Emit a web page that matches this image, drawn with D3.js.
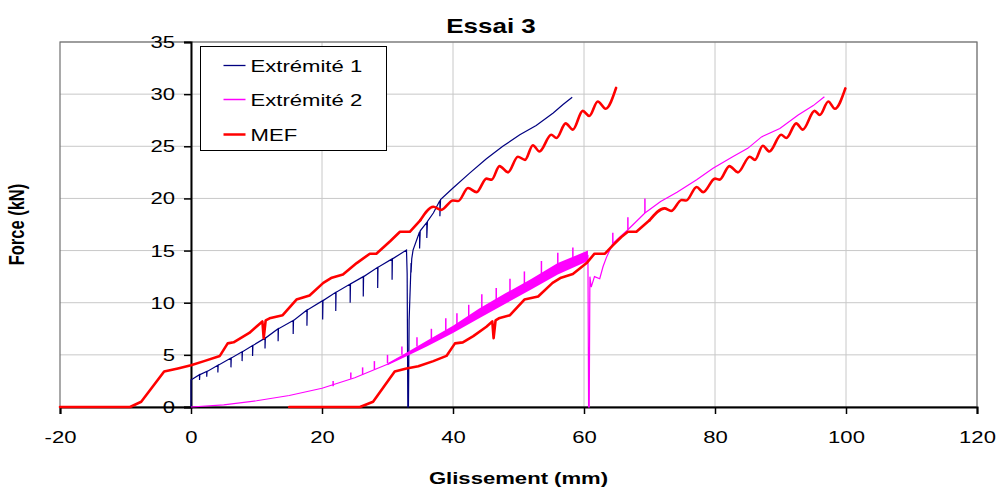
<!DOCTYPE html>
<html>
<head>
<meta charset="utf-8">
<script src="https://cdn.jsdelivr.net/npm/d3@7"></script>
<style>
  body { margin: 0; background: #fff; }
  text { font-family: Arial, "Liberation Sans", sans-serif; fill: #000; }
</style>
</head>
<body>
<div id="chart"></div>
<script>
// values: [glissement mm, force kN]
const xTicks = [-20, 0, 20, 40, 60, 80, 100, 120];
const yTicks = [0, 5, 10, 15, 20, 25, 30, 35];

// Extrémité 1 (with the downward unloading spikes)
const ext1 = [[0,0],[0,2.6],[0.3,2.7],[1.3,3.1],[1.3,2.6],[1.35,3.1],[2.4,3.4],[2.4,2.9],[2.45,3.4],
  [4.1,4.0],[4.1,3.3],[4.15,4.0],[6.1,4.7],[6.1,3.8],[6.15,4.7],[7.8,5.3],[7.8,4.4],[7.85,5.3],
  [9.4,5.9],[9.4,4.9],[9.45,5.9],[11.3,6.6],[11.3,5.6],[11.35,6.6],[13.3,7.5],[13.3,6.3],[13.35,7.5],
  [15.6,8.3],[15.6,7.0],[15.65,8.3],[17.7,9.3],[17.7,7.8],[17.75,9.3],[20.1,10.2],[20.1,8.4],[20.15,10.2],
  [22.1,11.0],[22.1,9.2],[22.15,11.0],[24.3,11.8],[24.3,10.0],[24.35,11.8],[26.3,12.5],[26.3,10.6],[26.35,12.5],
  [28.5,13.4],[28.5,11.4],[28.55,13.4],[30.7,14.2],[30.7,12.2],[30.75,14.2],[32.9,15.05],[33.0,12.8],
  [33.1,0],[33.2,0],[33.3,8.3],[33.6,13.8],[33.6,12.9],[33.7,14.2],[33.9,15.05],[34.9,16.8],[34.9,15.2],
  [35.0,16.9],[36.0,17.7],[36.0,16.2],[36.1,17.8],[37.0,18.6],[38.0,19.8],[38.0,18.3],[38.1,19.9],
  [40,21.0],[42.5,22.4],[45.1,23.8],[47.6,25.0],[50.2,26.1],[52.7,27.0],[55.3,28.2],[56.8,29.0],[58.2,29.7]];

// Extrémité 2 centre line
const ext2 = [[0,0],[5,0.2],[10,0.6],[15,1.1],[20,1.8],[25,2.8],[30,4.1],[33,5.05],[36,6.05],[40,7.45],
  [44,9.0],[48,10.4],[52,11.8],[56,13.25],[60.6,14.5],[60.7,0],[60.8,0],[60.9,12.5],[61.1,11.5],[61.6,12.5],
  [62.4,12.3],[62.9,13.45],[63.4,14.3],[64.4,15.7],[66.7,17.0],[69.3,18.6],[71.7,19.7],[74.2,20.6],
  [77.2,21.8],[79.7,22.9],[82.7,24.0],[85,24.8],[87.1,25.9],[89.9,26.7],[92.7,28.0],[95,28.9],[96.7,29.75]];

// Extrémité 2 noisy band: [x, low, high]
const ext2Band = [[30,4.0,4.2],[33,4.9,5.25],[36,5.8,6.35],[40,7.1,7.8],[44,8.5,9.45],[48,9.9,10.9],
  [52,11.3,12.3],[56,12.7,13.8],[60.6,14.0,15.0]];

// Extrémité 2 upward spikes: [x, from, to]
const ext2Spikes = [[21.7,2.0,2.5],[24.4,2.7,3.3],[26.2,3.1,3.8],[28.0,3.6,4.4],[30.0,4.2,5.0],[32.2,5.0,5.8],
  [34.5,5.8,6.7],[36.7,6.5,7.5],[38.9,7.3,8.5],[40.6,7.9,9.0],[42.4,8.6,9.8],[44.4,9.4,10.8],[46.6,10.2,11.4],
  [48.7,10.9,12.3],[50.9,11.6,13.0],[53.5,12.6,14.0],[56.0,13.5,14.8],[58.3,14.1,15.3],[64.4,15.7,16.7],
  [66.7,17.0,18.2],[69.3,18.6,20.0]];

// MEF, first and second curves
const mef1 = [[-20,0],[-9.3,0],[-7.6,0.5],[-4.1,3.4],[-2,3.7],[0,4.0],[2,4.4],[4.4,4.9],[5.6,6.1],[6.5,6.2],
  [8.9,7.1],[10.9,8.2],[11.1,6.6],[11.4,8.3],[12,8.5],[14,8.8],[16.1,10.3],[18.1,10.7],[20.2,11.9],[21.5,12.4],
  [23.2,12.7],[25.3,13.8],[27.3,14.7],[28.3,14.7],[30.4,15.9],[31.9,16.8],[33.4,16.8],[35,17.9],[37,19.2],
  [38.2,18.9],[40,19.8],[40.8,19.75],[42.3,21.0],[43.6,20.6],[45.1,21.9],[45.9,21.8],[47.1,23.1],[48.4,22.5],
  [49.9,24.0],[51.0,23.7],[52.2,25.1],[53.2,24.5],[55.0,26.1],[55.8,25.8],[57.2,27.2],[58.3,26.6],[59.8,28.4],
  [60.8,27.9],[62.1,29.3],[63.3,28.6],[64.9,30.6]];

const mef2 = [[15,0],[25.8,0],[27.8,0.5],[31.1,3.4],[32.9,3.7],[34.7,3.9],[37,4.4],[39,4.9],[40.3,6.1],[41.5,6.2],
  [43.1,6.8],[45.1,7.7],[46.0,8.2],[46.2,6.6],[46.5,8.3],[47,8.5],[48.7,8.8],[50.9,10.3],[53,10.6],[55.2,11.9],
  [56.5,12.4],[58.3,12.75],[60.4,13.8],[61.6,14.7],[63.2,14.7],[64.4,15.5],[65.7,16.3],[66.7,16.8],[68,16.8],
  [70,17.9],[72.3,19.05],[73.3,18.8],[74.9,19.85],[75.6,19.8],[77.2,21.1],[78.2,20.6],[80,21.9],[80.7,21.8],
  [82.2,23.1],[83.5,22.5],[85.3,24.0],[86.1,23.7],[87.3,25.05],[88.3,24.5],[90.1,26.1],[90.9,25.8],[92.4,27.2],
  [93.4,26.6],[95.2,28.4],[96.0,28.0],[97.3,29.3],[98.3,28.6],[99.9,30.55]];

// where each MEF curve turns into the smooth oscillating part
const mefWaveStart = [35, 70];

const legendItems = [
  { name: "Extrémité 1", color: "#000080", width: 1.3 },
  { name: "Extrémité 2", color: "#ff00ff", width: 1.5 },
  { name: "MEF", color: "#ff0000", width: 2.5 }
];

const W = 1005, H = 495;
const margin = { left: 60, top: 42, right: 28, bottom: 88 };
const width = W - margin.left - margin.right;
const height = H - margin.top - margin.bottom;
const SX = 1.3; // the original text is stretched horizontally

const svg = d3.select("#chart").append("svg")
    .attr("width", W)
    .attr("height", H);

const x = d3.scaleLinear().domain([-20, 120]).range([margin.left, margin.left + width]);
const y = d3.scaleLinear().domain([0, 35]).range([margin.top + height, margin.top]);

// gridlines
svg.append("g").selectAll("line").data(yTicks.slice(1)).join("line")
    .attr("x1", x(-20)).attr("x2", x(120))
    .attr("y1", d => y(d)).attr("y2", d => y(d))
    .attr("stroke", "#c8c8c8").attr("stroke-width", 1);
svg.append("g").selectAll("line").data(xTicks.slice(1)).join("line")
    .attr("x1", d => x(d)).attr("x2", d => x(d))
    .attr("y1", y(0)).attr("y2", y(35))
    .attr("stroke", "#c8c8c8").attr("stroke-width", 1);

// frame
svg.append("rect")
    .attr("x", x(-20)).attr("y", y(35))
    .attr("width", x(120) - x(-20)).attr("height", y(0) - y(35))
    .attr("fill", "none").attr("stroke", "#707070").attr("stroke-width", 1.2);

// y axis at x = 0
const yAxis = d3.axisLeft(y).tickValues(yTicks).tickSize(7).tickFormat(d => String(d));
const gy = svg.append("g").attr("transform", `translate(${x(0)},0)`).call(yAxis);
gy.select(".domain").attr("stroke", "#000").attr("stroke-width", 2);
gy.selectAll(".tick line").attr("stroke", "#000").attr("stroke-width", 1.5);
gy.selectAll(".tick text")
    .attr("x", 0)
    .attr("transform", `translate(-16,0) scale(${SX},1)`)
    .attr("font-size", 17).attr("font-family", "Arial, 'Liberation Sans', sans-serif");

// x axis at y = 0
const xAxis = d3.axisBottom(x).tickValues(xTicks).tickSize(7).tickPadding(17).tickFormat(d => String(d));
const gx = svg.append("g").attr("transform", `translate(0,${y(0)})`).call(xAxis);
gx.select(".domain").attr("stroke", "#000").attr("stroke-width", 2);
gx.selectAll(".tick line").attr("stroke", "#000").attr("stroke-width", 1.5);
gx.selectAll(".tick text")
    .attr("transform", `scale(${SX},1)`)
    .attr("font-size", 17).attr("font-family", "Arial, 'Liberation Sans', sans-serif");

// series
const plot = svg.append("g");
const line = d3.line().x(d => x(d[0])).y(d => y(d[1]));
const smooth = d3.line().x(d => x(d[0])).y(d => y(d[1])).curve(d3.curveMonotoneX);

plot.append("path").datum(ext1)
    .attr("d", line).attr("fill", "none")
    .attr("stroke", "#000080").attr("stroke-width", 1.2);

plot.append("path").datum(ext2Band)
    .attr("d", d3.area().x(d => x(d[0])).y0(d => y(d[1])).y1(d => y(d[2])))
    .attr("fill", "#ff00ff");
plot.append("path").datum(ext2)
    .attr("d", line).attr("fill", "none")
    .attr("stroke", "#ff00ff").attr("stroke-width", 1.2);
plot.append("g").selectAll("line").data(ext2Spikes).join("line")
    .attr("x1", d => x(d[0])).attr("x2", d => x(d[0]))
    .attr("y1", d => y(d[1])).attr("y2", d => y(d[2]))
    .attr("stroke", "#ff00ff").attr("stroke-width", 1.5);

[mef1, mef2].forEach((data, i) => {
    const split = mefWaveStart[i];
    plot.append("path").datum(data.filter(d => d[0] <= split))
        .attr("d", line).attr("fill", "none")
        .attr("stroke", "#ff0000").attr("stroke-width", 2.6)
        .attr("stroke-linejoin", "round").attr("stroke-linecap", "round");
    plot.append("path").datum(data.filter(d => d[0] >= split))
        .attr("d", smooth).attr("fill", "none")
        .attr("stroke", "#ff0000").attr("stroke-width", 2.6)
        .attr("stroke-linejoin", "round").attr("stroke-linecap", "round");
});

// titles
svg.append("text")
    .attr("transform", `translate(491,33) scale(${SX},1)`)
    .attr("text-anchor", "middle")
    .attr("font-size", 20).attr("font-weight", "bold")
    .text("Essai 3");

svg.append("text")
    .attr("transform", `translate(${(x(-20) + x(120)) / 2},484) scale(${SX},1)`)
    .attr("text-anchor", "middle")
    .attr("font-size", 17).attr("font-weight", "bold")
    .text("Glissement (mm)");

svg.append("text")
    .attr("transform", `translate(24,${(y(0) + y(35)) / 2}) scale(${SX},1) rotate(-90)`)
    .attr("text-anchor", "middle")
    .attr("font-size", 16.5).attr("font-weight", "bold")
    .text("Force (kN)");

// legend
const legend = svg.append("g").attr("transform", "translate(200.5,46.5)");
legend.append("rect")
    .attr("width", 186).attr("height", 104)
    .attr("fill", "#fff").attr("stroke", "#000").attr("stroke-width", 1);
legendItems.forEach((d, i) => {
    const ly = Math.round(18.5 + i * 34.5);
    legend.append("line")
        .attr("x1", 23).attr("x2", 45).attr("y1", ly).attr("y2", ly)
        .attr("stroke", d.color).attr("stroke-width", d.width);
    legend.append("text")
        .attr("transform", `translate(50,${ly}) scale(${SX},1)`)
        .attr("dy", "0.36em")
        .attr("font-size", 17)
        .text(d.name);
});
</script>
</body>
</html>
